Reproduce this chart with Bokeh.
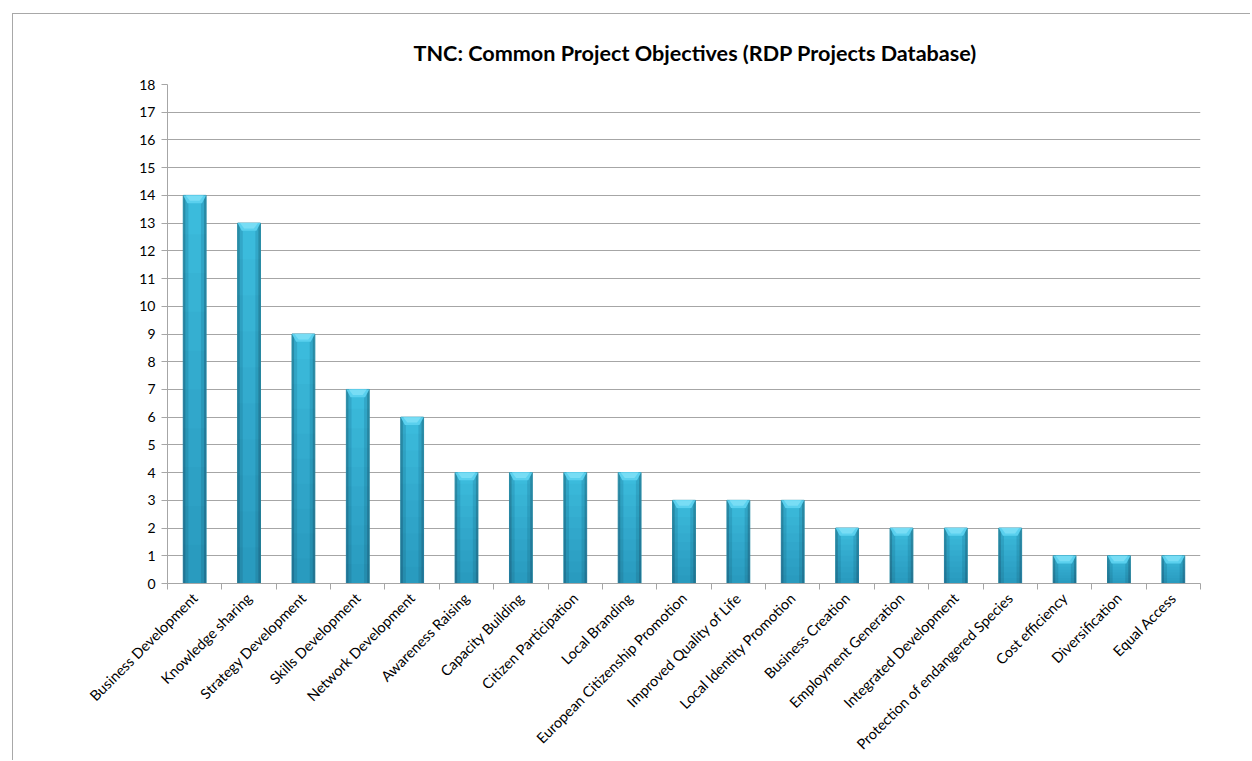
from bokeh.plotting import figure
from bokeh.models import FixedTicker, Title
from bokeh.embed import file_html
from bokeh.resources import INLINE

categories = ["Business Development", "Knowledge sharing", "Strategy Development",
              "Skills Development", "Network Development", "Awareness Raising",
              "Capacity Building", "Citizen Participation", "Local Branding",
              "European Citizenship Promotion", "Improved Quality of Life",
              "Local Identity Promotion", "Business Creation", "Employment Generation",
              "Integrated Development", "Protection of endangered Species",
              "Cost efficiency", "Diversification", "Equal Access"]
values = [14, 13, 9, 7, 6, 4, 4, 4, 4, 3, 3, 3, 2, 2, 2, 2, 1, 1, 1]
y_ticks = list(range(0, 19))

FONT = "Lato"
GRID = "#a6a6a6"

n = len(categories)
centers = [i + 0.5 for i in range(n)]
bounds = list(range(n + 1))

p = figure(width=1238, height=747, x_range=(0, n), y_range=(0, 18),
           output_backend="svg", toolbar_location=None,
           min_border_left=154, min_border_right=51, min_border_top=70,
           min_border_bottom=170,
           styles={"margin-left": "12px", "margin-top": "13px",
                   "border-left": "1px solid #a8a8a8",
                   "border-top": "1px solid #a8a8a8"})
p.outline_line_color = None

t = Title(text="TNC: Common Project Objectives (RDP Projects Database)",
          align="left", text_font=FONT, text_font_size="21.6px",
          text_font_style="bold", text_color="#000000", standoff=38, offset=246)
p.add_layout(t, "above")

# bars: layered to mimic cylinder shading
BW = 0.42
p.vbar(x=centers, top=values, bottom=0, width=BW, fill_color="#2a8ea8", line_color="#2a8ea8")
p.vbar(x=centers, top=values, bottom=0, width=BW * 0.82, fill_color="#34abcb", line_color=None)
p.vbar(x=centers, top=values, bottom=0, width=BW * 0.55, fill_color="#3dbfe0", line_color=None)
# vertical darkening toward the bottom
N = 10
for k in range(1, N + 1):
    tops = [v * k / N for v in values]
    p.vbar(x=centers, top=tops, bottom=0, width=BW, fill_color="#0a3a48",
           fill_alpha=0.022, line_color=None)
# top bevel cap
cap_h = 0.28
d = BW * 0.18
xs = [[c - BW / 2, c + BW / 2, c + BW / 2 - d, c - BW / 2 + d] for c in centers]
ys = [[v, v, v - cap_h, v - cap_h] for v in values]
p.patches(xs, ys, fill_color="#5ad0ee", line_color=None)
xs2 = [[c - BW / 2 + d * 0.6, c + BW / 2 - d * 0.6, c + BW / 2 - d * 1.6, c - BW / 2 + d * 1.6] for c in centers]
ys2 = [[v, v, v - cap_h * 0.7, v - cap_h * 0.7] for v in values]
p.patches(xs2, ys2, fill_color="#78ddf5", line_color=None)

# axes
p.xgrid.visible = False
p.ygrid.grid_line_color = GRID
p.ygrid.grid_line_width = 1
p.yaxis.ticker = FixedTicker(ticks=y_ticks)
p.yaxis.axis_line_color = GRID
p.yaxis.major_tick_line_color = GRID
p.yaxis.major_tick_in = 0
p.yaxis.major_tick_out = 6
p.yaxis.minor_tick_line_color = None
p.yaxis.major_label_text_font = FONT
p.yaxis.major_label_text_font_size = "14px"
p.yaxis.major_label_text_color = "#000000"
p.yaxis.major_label_standoff = 6

p.xaxis.ticker = FixedTicker(ticks=centers, minor_ticks=bounds)
p.xaxis.major_label_overrides = {c: lab for c, lab in zip(centers, categories)}
p.xaxis.major_label_orientation = 0.785398
p.xaxis.axis_line_color = GRID
p.xaxis.major_tick_line_color = None
p.xaxis.major_tick_in = 0
p.xaxis.major_tick_out = 0
p.xaxis.minor_tick_line_color = GRID
p.xaxis.minor_tick_in = 0
p.xaxis.minor_tick_out = 6
p.xaxis.major_label_text_font = FONT
p.xaxis.major_label_text_font_size = "14.5px"
p.xaxis.major_label_text_color = "#000000"
p.xaxis.major_label_standoff = 6

open("out.html", "w").write(file_html(p, INLINE))
